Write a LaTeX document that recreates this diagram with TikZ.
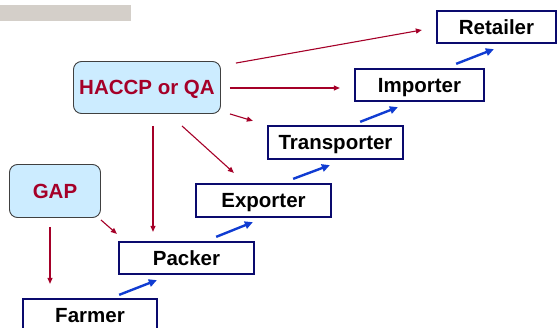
\documentclass[tikz,border=0pt]{standalone}
\usepackage{fontspec}
\setmainfont{Liberation Sans}
\usetikzlibrary{calc,arrows.meta}
\definecolor{barGray}{RGB}{212,207,201}
\definecolor{qaRed}{RGB}{165,0,40}
\definecolor{flowBlue}{RGB}{16,60,210}
\definecolor{boxNavy}{RGB}{10,10,110}
\definecolor{stdFill}{RGB}{204,236,255}
\tikzset{
  chainbox/.style={draw=boxNavy, line width=2.3pt, fill=white, inner sep=0pt,
    font=\fontsize{20.5}{23}\selectfont\bfseries, text=black,
    text height=14.7pt, text depth=0pt},
  stdbox/.style={draw=black!75, line width=0.9pt, rounded corners=8pt, fill=stdFill,
    inner sep=0pt, font=\fontsize{20.5}{23}\selectfont\bfseries, text=qaRed,
    text height=14.7pt, text depth=0pt},
  redarrow/.style={draw=qaRed, line width=1.1pt, -{Triangle[length=6pt,width=5pt]}},
  bluearrow/.style={draw=flowBlue, line width=2.4pt, -{Triangle[length=8pt,width=7.5pt]}}
}
\begin{document}
\begin{tikzpicture}[x=1pt,y=-1pt]
\useasboundingbox (0,0) rectangle (559,327);
\clip (0,0) rectangle (559,327);
\fill[barGray] (0,5) rectangle (131,21);
\node[chainbox, minimum width=119pt, minimum height=32pt] (retailer) at (496.5,27) {Retailer};
\node[chainbox, minimum width=129pt, minimum height=32pt] (importer) at (419.5,85) {Importer};
\node[chainbox, minimum width=135pt, minimum height=33pt] (transporter) at (335.5,142.5) {Transporter};
\node[chainbox, minimum width=135pt, minimum height=33pt] (exporter) at (263.5,200.5) {Exporter};
\node[chainbox, minimum width=135pt, minimum height=32pt] (packer) at (186.5,258) {Packer};
\node[chainbox, minimum width=134pt, minimum height=33pt] (farmer) at (90,315.5) {Farmer};
\node[stdbox, minimum width=147pt, minimum height=52pt] (haccp) at (147,87.5) {HACCP or QA};
\node[stdbox, minimum width=91pt, minimum height=53pt] (gap) at (55,191) {GAP};
% red arrows
\draw[redarrow] ($(haccp.north east)+(15,2)$) -- ($(retailer.west)+(-14,3)$);
\coordinate (he) at ($(haccp.east)+(9,0.5)$);
\draw[redarrow] (he) -- ($(he -| importer.west)+(-14,0)$);
\draw[redarrow] ($(haccp.south east)+(9,0)$) -- ($(transporter.north west)+(-14,-4)$);
\draw[redarrow] ($(haccp.south)+(35,12)$) -- ($(exporter.north west)+(39,-10)$);
\coordinate (hp) at ($(haccp.south)+(6,12)$);
\draw[redarrow] (hp) -- ($(hp |- packer.north)+(0,-9)$);
\draw[redarrow] ($(gap.south east)+(0,2)$) -- ($(packer.north west)+(-1,-7)$);
\coordinate (gs) at ($(gap.south)+(-5,9)$);
\draw[redarrow] (gs) -- ($(gs |- farmer.north)+(0,-14)$);
% blue arrows
\draw[bluearrow] ($(farmer.north east)+(-39,-3)$) -- ($(packer.south west)+(39,5)$);
\draw[bluearrow] ($(packer.north east)+(-39,-4)$) -- ($(exporter.south west)+(58,4)$);
\draw[bluearrow] ($(exporter.north east)+(-39,-4)$) -- ($(transporter.south west)+(63,5)$);
\draw[bluearrow] ($(transporter.north east)+(-44,-3)$) -- ($(importer.south west)+(44,5)$);
\draw[bluearrow] ($(importer.north east)+(-29,-4)$) -- ($(retailer.south west)+(58,5)$);
\end{tikzpicture}
\end{document}
